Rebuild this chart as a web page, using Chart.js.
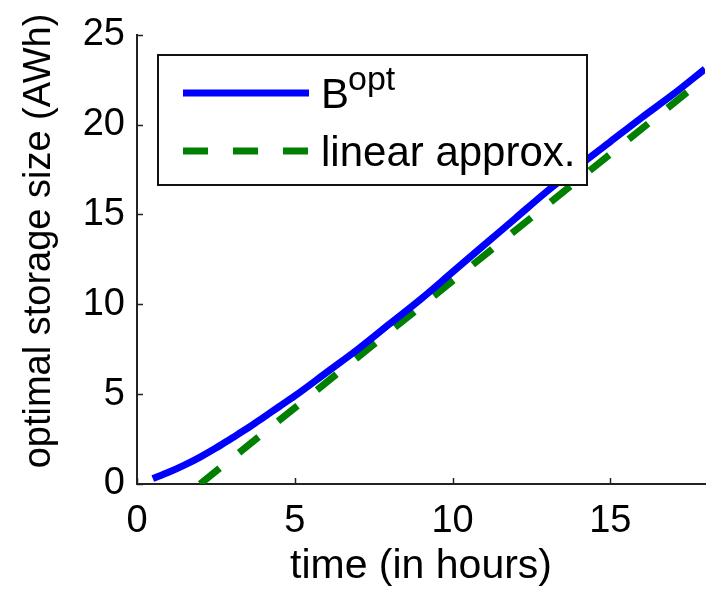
<!DOCTYPE html>
<html>
<head>
<meta charset="utf-8">
<script src="https://cdn.jsdelivr.net/npm/chart.js@4.4.1/dist/chart.umd.min.js"></script>
<style>
html, body { margin: 0; padding: 0; background: #fff; }
#wrap { width: 708px; height: 591px; }
</style>
</head>
<body>
<div id="wrap"><canvas id="storageChart" width="708" height="591"></canvas></div>
<script>
const timeHours = [0.5, 1, 1.5, 2, 2.5, 3, 3.5, 4, 4.5, 5, 6, 7, 8, 9, 10, 11, 12, 13, 14, 15, 16, 17, 18];
const optStorage = [0.3, 0.65, 1.05, 1.5, 2.0, 2.55, 3.1, 3.7, 4.3, 4.9, 6.2, 7.5, 8.9, 10.3, 11.8, 13.3, 14.8, 16.3, 17.7, 19.05, 20.4, 21.7, 23.1];
const approxTime = [2, 18];
const approxStorage = [0, 22.6];
const xTicks = [0, 5, 10, 15];
const yTicks = [0, 5, 10, 15, 20, 25];

const FONT = 'Liberation Sans, Arial, Helvetica, sans-serif';
const axisFont = { family: FONT, size: 38 };

const toPoints = (xs, ys) => xs.map((x, i) => ({ x: x, y: ys[i] }));

// matlab style: inward ticks, y label, boxed legend drawn over the lines
const matlabBits = {
    id: 'matlabBits',
    afterDatasetsDraw(chart) {
        const ctx = chart.ctx;
        const area = chart.chartArea;
        const xs = chart.scales.x, ys = chart.scales.y;
        ctx.save();

        ctx.strokeStyle = '#222';
        ctx.lineWidth = 1.5;
        ctx.beginPath();
        xTicks.forEach(v => {
            const px = Math.round(xs.getPixelForValue(v)) + 0.5;
            ctx.moveTo(px, area.bottom);
            ctx.lineTo(px, area.bottom - 6);
        });
        yTicks.forEach(v => {
            const py = Math.round(ys.getPixelForValue(v)) + 0.5;
            ctx.moveTo(area.left, py);
            ctx.lineTo(area.left + 6, py);
        });
        ctx.stroke();

        // y axis label sits a bit above the axis centre in the original
        ctx.save();
        ctx.translate(40, 241);
        ctx.rotate(-Math.PI / 2);
        ctx.fillStyle = '#000';
        ctx.font = '38px ' + FONT;
        ctx.textAlign = 'center';
        ctx.textBaseline = 'middle';
        ctx.fillText('optimal storage size (AWh)', 0, 0);
        ctx.restore();

        // legend box
        const box = { l: 158, t: 55, r: 587, b: 185 };
        ctx.fillStyle = '#fff';
        ctx.fillRect(box.l, box.t, box.r - box.l, box.b - box.t);
        ctx.strokeStyle = '#111';
        ctx.lineWidth = 2;
        ctx.strokeRect(box.l, box.t, box.r - box.l, box.b - box.t);

        const sets = chart.data.datasets;
        const rows = [93, 151];
        rows.forEach((ry, i) => {
            const ds = sets[i];
            ctx.beginPath();
            ctx.strokeStyle = ds.borderColor;
            ctx.lineWidth = ds.borderWidth;
            ctx.lineCap = 'butt';
            ctx.setLineDash(ds.borderDash || []);
            ctx.moveTo(183, ry);
            ctx.lineTo(309, ry);
            ctx.stroke();
        });
        ctx.setLineDash([]);

        ctx.fillStyle = '#000';
        ctx.textBaseline = 'alphabetic';
        ctx.textAlign = 'left';
        ctx.font = '42px ' + FONT;
        ctx.fillText('B', 321, rows[0] + 15);
        const bw = ctx.measureText('B').width;
        ctx.font = '34px ' + FONT;
        ctx.fillText('opt', 321 + bw - 1, rows[0] - 3);
        ctx.font = '42px ' + FONT;
        ctx.fillText('linear approx.', 321, rows[1] + 15);

        ctx.restore();
    }
};

new Chart(document.getElementById('storageChart'), {
    type: 'line',
    data: {
        datasets: [{
            label: 'Bopt',
            data: toPoints(timeHours, optStorage),
            borderColor: '#0000ff',
            borderWidth: 7,
            pointRadius: 0,
            cubicInterpolationMode: 'monotone',
            borderCapStyle: 'butt'
        }, {
            label: 'linear approx.',
            data: toPoints(approxTime, approxStorage),
            borderColor: '#008000',
            borderWidth: 7,
            borderDash: [25, 25],
            pointRadius: 0,
            borderCapStyle: 'butt'
        }]
    },
    options: {
        responsive: false,
        animation: false,
        events: [],
        layout: { padding: { top: 34, right: 3, left: 0, bottom: 0 } },
        plugins: {
            legend: { display: false },
            tooltip: { enabled: false }
        },
        scales: {
            x: {
                type: 'linear',
                min: 0,
                max: 18,
                afterBuildTicks: s => { s.ticks = xTicks.map(v => ({ value: v })); },
                afterFit: s => { s.height = 107; },
                grid: { display: false, drawTicks: false },
                border: { display: true, color: '#222', width: 2 },
                ticks: { font: axisFont, color: '#000', padding: 15, maxRotation: 0 },
                title: { display: true, text: 'time (in hours)', font: { family: FONT, size: 41 }, color: '#000', padding: { top: 0, bottom: 0 } }
            },
            y: {
                type: 'linear',
                min: 0,
                max: 25,
                afterBuildTicks: s => { s.ticks = yTicks.map(v => ({ value: v })); },
                afterFit: s => { s.width = 137; },
                grid: { display: false, drawTicks: false },
                border: { display: true, color: '#222', width: 2 },
                ticks: { font: axisFont, color: '#000', padding: 12 },
                title: { display: false }
            }
        }
    },
    plugins: [matlabBits]
});
</script>
</body>
</html>
